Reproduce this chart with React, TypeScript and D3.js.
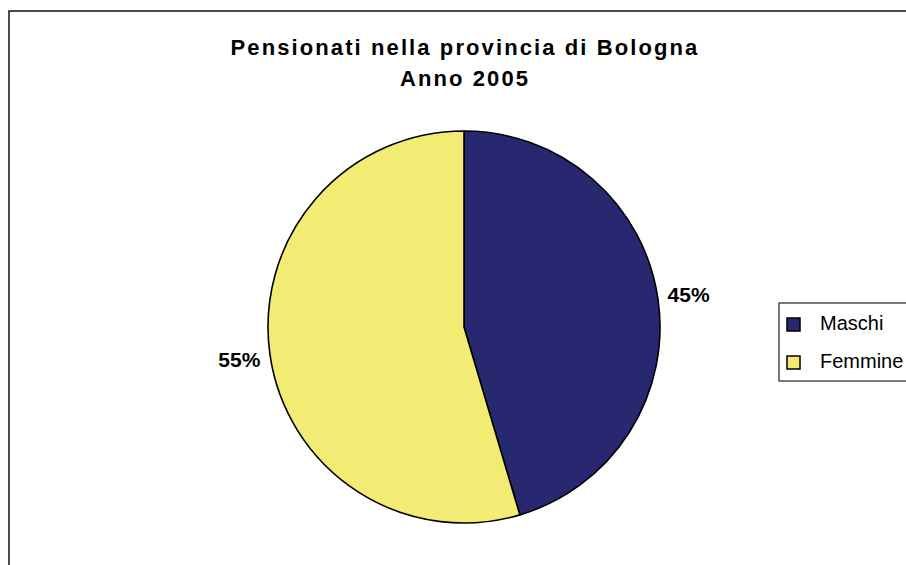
import React from "react";
import * as d3 from "d3";

const categories = ["Maschi", "Femmine"];
const values = [45.4, 54.6];
const colors = ["#282870", "#F2EC74"];
const titleLines = ["Pensionati nella provincia di Bologna", "Anno 2005"];

const W = 906;
const H = 565;
const FONT = "Arial, 'Liberation Sans', sans-serif";

export default function App() {
  const cx = 464;
  const cy = 327;
  const r = 196;
  const total = d3.sum(values);
  const pie = d3.pie<number>().sort(null).value((d) => d)(values);
  const arc = d3.arc<d3.PieArcDatum<number>>().innerRadius(0).outerRadius(r);
  const labelArc = d3.arc<d3.PieArcDatum<number>>().innerRadius(227).outerRadius(227);
  const fmt = d3.format(".0%");

  return (
    <svg
      width={W}
      height={H}
      style={{ position: "absolute", left: 0, top: 0, background: "#fff" }}
    >
      <rect x={9} y={11} width={1200} height={1200} fill="#fff" stroke="#111" strokeWidth={1.5} />
      {titleLines.map((t, i) => (
        <text
          key={i}
          x={465}
          y={55 + i * 31}
          textAnchor="middle"
          fontFamily={FONT}
          fontWeight="bold"
          fontSize={22}
          letterSpacing={2.1}
          fill="#000"
        >
          {t}
        </text>
      ))}
      <g transform={`translate(${cx},${cy})`}>
        {pie.map((d, i) => (
          <path key={i} d={arc(d) || ""} fill={colors[i]} stroke="#000" strokeWidth={1.6} strokeLinejoin="round" />
        ))}
        {pie.map((d, i) => {
          const [lx, ly] = labelArc.centroid(d);
          return (
            <text
              key={"l" + i}
              x={lx}
              y={ly + 7.5}
              textAnchor="middle"
              fontFamily={FONT}
              fontWeight="bold"
              fontSize={21}
              fill="#000"
            >
              {fmt(d.value / total)}
            </text>
          );
        })}
      </g>
      <rect x={779} y={303} width={200} height={78} fill="#fff" stroke="#222" strokeWidth={1.2} />
      {categories.map((c, i) => (
        <g key={c} transform={`translate(0,${i * 38})`}>
          <rect x={787} y={318} width={13} height={13} fill={colors[i]} stroke="#000" strokeWidth={1.5} />
          <text x={820} y={330} fontFamily={FONT} fontSize={20} fill="#000">
            {c}
          </text>
        </g>
      ))}
    </svg>
  );
}
